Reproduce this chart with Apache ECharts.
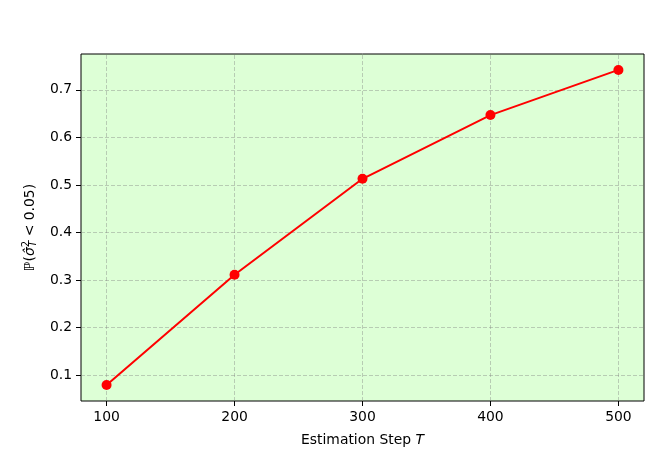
<!DOCTYPE html>
<html lang="en" style="height: 100%">
<head>
    <meta charset="UTF-8">
    <title>Probability vs estimation step</title>
    <script src="https://cdn.jsdelivr.net/npm/echarts@6/dist/echarts.min.js"></script>
</head>
<body style="height: 100%; margin: 0">
<div id="container" style="width: 650px; height: 450px"></div>
<script type="text/javascript">
    // data
    var steps = [100, 200, 300, 400, 500];
    var probs = [0.079, 0.311, 0.513, 0.647, 0.742];
    var xTicks = [100, 200, 300, 400, 500];
    var yTicks = [0.1, 0.2, 0.3, 0.4, 0.5, 0.6, 0.7];

    var dom = document.getElementById("container");
    var myChart = echarts.init(dom);

    var gridLine = {color: 'rgba(128,128,128,0.4)', type: [4, 2], width: 1};
    var marks = [];
    for (var i = 0; i < xTicks.length; i++) marks.push({xAxis: xTicks[i]});
    for (var j = 0; j < yTicks.length; j++) marks.push({yAxis: yTicks[j]});

    var font = 'DejaVu Sans';
    var fs = 13.9;
    var option = {
        animation: false,
        textStyle: {fontFamily: font},
        grid: {
            left: 81, right: 6, top: 54, bottom: 49,
            outerBoundsMode: 'none', containLabel: false,
            show: true, backgroundColor: '#ddffd6', borderColor: '#000', borderWidth: 1
        },
        xAxis: {
            type: 'value', min: 80, max: 520,
            axisLine: {show: false},
            splitLine: {show: false},
            axisTick: {show: true, customValues: xTicks, length: 5, lineStyle: {color: '#000'}},
            axisLabel: {customValues: xTicks, color: '#000', fontSize: fs, margin: 9, fontFamily: font},
            name: '{a|Estimation Step }{i|T}',
            nameLocation: 'middle', nameGap: 32,
            nameTextStyle: {
                rich: {
                    a: {fontSize: fs, color: '#000', fontFamily: font},
                    i: {fontSize: fs, color: '#000', fontFamily: font, fontStyle: 'italic'}
                }
            }
        },
        yAxis: {
            type: 'value', min: 0.0455, max: 0.7755,
            axisLine: {show: false},
            splitLine: {show: false},
            axisTick: {show: true, customValues: yTicks, length: 5, lineStyle: {color: '#000'}},
            axisLabel: {customValues: yTicks, color: '#000', fontSize: fs, margin: 9, fontFamily: font,
                formatter: function (v) { return v.toFixed(1); }},
            name: '{a|ℙ(}{i|σ̂}{s|2}{b|T}{a| < 0.05)}',
            nameLocation: 'middle', nameGap: 42, nameRotate: 90,
            nameTextStyle: {
                rich: {
                    a: {fontSize: fs, color: '#000', fontFamily: font},
                    i: {fontSize: fs, color: '#000', fontFamily: font, fontStyle: 'italic'},
                    s: {fontSize: 10, color: '#000', fontFamily: font, padding: [0, 0, 8, 0]},
                    b: {fontSize: 10, color: '#000', fontFamily: font, fontStyle: 'italic', padding: [6, 0, 0, -6]}
                }
            }
        },
        series: [{
            type: 'line',
            data: steps.map(function (s, k) { return [s, probs[k]]; }),
            symbol: 'circle', symbolSize: 10,
            lineStyle: {color: '#ff0000', width: 2},
            itemStyle: {color: '#ff0000'},
            z: 5,
            markLine: {
                silent: true, symbol: 'none', label: {show: false},
                lineStyle: gridLine, data: marks, z: 1
            }
        }]
    };
    myChart.setOption(option);
</script>
</body>
</html>
